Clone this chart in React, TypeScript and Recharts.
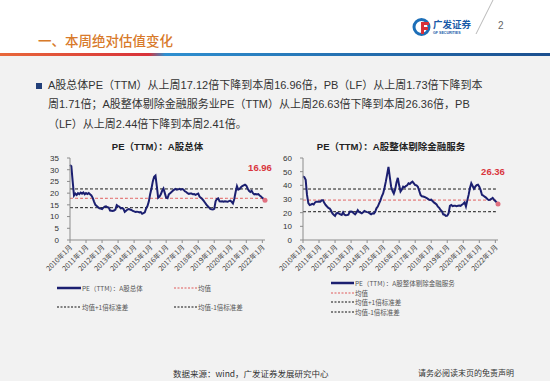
import React from "react";
import { LineChart, Line, XAxis, YAxis, ReferenceDot } from "recharts";

const FONT = '"Liberation Sans", "Noto Sans CJK SC", sans-serif';
const CJK = '"Noto Sans CJK SC", "Liberation Sans", sans-serif';
const NAVY = "#1b1f70";
const RED = "#d9363e";

// months 2010-01 .. 2022-03
const YEARS = [2010, 2011, 2012, 2013, 2014, 2015, 2016, 2017, 2018, 2019, 2020, 2021, 2022];
const LAST_MONTH = 3;
const MONTH_LABELS: string[] = [];
YEARS.forEach((y) => {
  for (let m = 1; m <= 12; m++) {
    if (y === 2022 && m > LAST_MONTH) break;
    MONTH_LABELS.push(`${y}年${m}月`);
  }
});

// PE(TTM) A股总体, monthly
const PE_ALL = [
  32.0, 31.5, 25.0, 19.0, 19.8, 19.2, 20.0, 19.6, 20.2, 19.8, 20.3, 19.5,
  20.0, 19.6, 20.0, 19.5, 19.0, 18.0, 16.4, 15.0, 14.5, 14.0, 13.5, 13.4,
  13.2, 13.8, 14.2, 14.4, 14.0, 13.8, 12.6, 12.5, 12.4, 12.6, 13.0, 14.9,
  14.5, 14.2, 13.5, 13.6, 13.3, 12.0, 12.5, 13.0, 13.2, 13.0, 12.8, 12.4,
  12.2, 12.0, 12.1, 12.0, 11.8, 11.9, 11.2, 11.5, 11.8, 13.5, 14.5, 16.4,
  19.5, 22.0, 25.0, 27.0, 27.5, 23.0, 18.0, 18.5, 19.5, 21.0, 22.0, 20.0,
  18.0, 17.8, 19.5, 20.0, 20.5, 21.0, 21.5, 21.8, 21.5, 21.6, 21.8, 21.5,
  21.7, 21.5, 20.8, 20.5, 20.0, 19.7, 19.8, 19.8, 19.5, 19.6, 19.3, 19.6,
  19.8, 18.5, 18.0, 17.5, 16.8, 16.0, 15.2, 14.5, 13.9, 13.3, 13.1, 13.0,
  13.3, 16.5, 17.5, 17.8, 16.5, 16.4, 16.5, 16.3, 16.5, 16.4, 16.3, 16.6,
  16.8, 16.3, 15.6, 17.5, 20.5, 23.0, 21.5, 21.8, 22.5, 23.0, 23.3, 23.6,
  23.2, 22.0, 21.0, 20.5, 21.0, 20.0, 19.5, 19.6, 19.4, 19.6, 19.0, 18.6,
  18.0, 17.5, 16.96,
];
const ALL_MEAN = 17.8;
const ALL_UPPER = 21.8;
const ALL_LOWER = 13.8;
const ALL_TICKS = [0, 5, 10, 15, 20, 25, 30, 35];

// PE(TTM) A股整体剔除金融服务, monthly
const PE_EX_FIN = [
  46.5, 46.0, 44.0, 33.0, 27.0, 25.6, 26.0, 26.5, 26.0, 27.5, 28.0, 28.0,
  28.2, 28.0, 29.0, 29.0, 27.0, 25.6, 24.5, 23.5, 23.0, 21.5, 19.5, 18.5,
  17.6, 19.5, 19.8, 19.3, 18.8, 18.3, 20.2, 18.5, 18.2, 18.3, 18.5, 20.7,
  20.8, 20.5, 19.5, 18.8, 20.0, 21.9, 20.5, 20.0, 19.5, 20.3, 21.2, 20.8,
  20.4, 20.2, 19.5, 18.8, 19.5, 19.3, 20.5, 23.2, 24.5, 26.8, 29.0, 32.0,
  34.1, 38.0, 42.7, 48.0, 53.5, 46.0, 39.0, 36.0, 34.0, 37.0, 42.0, 45.5,
  40.0, 35.5, 37.0, 39.0, 38.5, 39.5, 40.0, 41.5, 41.0, 42.0, 42.7, 41.5,
  40.2, 40.0, 39.0, 36.0, 33.0, 32.0, 31.8, 31.5, 31.0, 30.5, 29.8, 29.3,
  29.5, 28.5, 27.5, 26.8, 26.0, 24.4, 23.5, 22.0, 21.0, 18.8, 18.5, 17.6,
  17.8, 19.5, 25.0, 25.6, 24.8, 25.0, 25.0, 24.8, 25.0, 25.2, 25.0, 25.8,
  26.5, 27.5, 24.5, 29.0, 33.0, 38.0, 41.5, 39.5, 37.5, 39.0, 40.2, 40.5,
  39.0, 36.5, 33.0, 32.5, 31.7, 31.0, 30.0, 29.3, 29.5, 30.0, 30.8, 29.5,
  28.5, 27.5, 26.36,
];
const EX_MEAN = 29.2;
const EX_UPPER = 37.3;
const EX_LOWER = 20.7;
const EX_TICKS = [0, 10, 20, 30, 40, 50, 60];

function YearTick({ x, y, payload }: any) {
  return (
    <g transform={`translate(${x},${y})`}>
      <text x={0} y={0} dy={4} textAnchor="end" transform="rotate(-45)" fontSize={7} fill="#444" fontFamily={CJK}>
        {payload.value}
      </text>
    </g>
  );
}

function PeChart({ values, yTicks, mean, upper, lower }: {
  values: number[]; yTicks: number[]; mean: number; upper: number; lower: number;
}) {
  const rows = MONTH_LABELS.map((month, i) => ({ month, pe: values[i] }));
  const last = rows[rows.length - 1];
  return (
    <LineChart width={245} height={130} data={rows} margin={{ top: 8, right: 20, bottom: 0, left: 0 }}>
      <XAxis dataKey="month" interval={11} tick={<YearTick />} tickSize={3} height={40} stroke="#8c8c8c" />
      <YAxis
        domain={[0, yTicks[yTicks.length - 1]]}
        ticks={yTicks}
        interval={0}
        width={30}
        tickSize={3}
        tickMargin={8}
        stroke="#8c8c8c"
        tick={{ fontSize: 8, fill: "#333", fontFamily: FONT }}
      />
      <Line dataKey={() => upper} name="均值+1倍标准差" stroke="#111" strokeDasharray="3 2" strokeWidth={1} dot={false} isAnimationActive={false} />
      <Line dataKey={() => lower} name="均值-1倍标准差" stroke="#111" strokeDasharray="3 2" strokeWidth={1} dot={false} isAnimationActive={false} />
      <Line dataKey={() => mean} name="均值" stroke="#e05a5a" strokeDasharray="3 2" strokeWidth={1} dot={false} isAnimationActive={false} />
      <Line dataKey="pe" stroke={NAVY} strokeWidth={2} dot={false} isAnimationActive={false} />
      <ReferenceDot
        x={last.month}
        y={last.pe}
        shape={(p: any) => (
          <g>
            <circle cx={p.cx} cy={p.cy} r={2.5} fill="#e07080" />
            <text x={p.cx - 5} y={p.cy - 29} textAnchor="middle" fontSize={9.5} fontWeight="bold" fill={RED} fontFamily={FONT}>
              {last.pe.toFixed(2)}
            </text>
          </g>
        )}
      />
    </LineChart>
  );
}

function LegendItem({ x, y, w, color, dashed, label }: {
  x: number; y: number; w: number; color: string; dashed?: boolean; label: string;
}) {
  return (
    <div style={{ position: "absolute", left: x, top: y - 5, height: 10, display: "flex", alignItems: "center", whiteSpace: "nowrap" }}>
      <svg width={w} height={4} style={{ display: "block" }}>
        <line x1={0} y1={2} x2={w} y2={2} stroke={color} strokeWidth={dashed ? 1 : 2.5} strokeDasharray={dashed ? "2 1.5" : undefined} />
      </svg>
      <span style={{ fontSize: 6.5, color: "#555", fontFamily: CJK, marginLeft: 1, lineHeight: "10px" }}>{label}</span>
    </div>
  );
}

export default function App() {
  return (
    <div style={{ position: "absolute", left: 0, top: 0, width: 550, height: 381, background: "#f2f2f2", overflow: "hidden", fontFamily: FONT }}>
      {/* header */}
      <div style={{ position: "absolute", left: 0, top: 0, width: 550, height: 53, background: "#fff" }} />
      <div style={{ position: "absolute", left: 0, top: 53, width: 550, height: 3, background: "linear-gradient(90deg, #e8683a 0%, #d8323a 27%, #2e8fd0 30%, #1b4f8f 100%)" }} />
      <div style={{ position: "absolute", left: 38, top: 33, fontSize: 13.5, lineHeight: "15px", color: "#d87a2a", fontFamily: CJK, fontWeight: 500, whiteSpace: "nowrap" }}>
        一、本周绝对估值变化
      </div>
      <svg style={{ position: "absolute", left: 405, top: 0 }} width={145} height={50}>
        <circle cx={16.5} cy={27} r={7.5} fill="none" stroke="#1d6fb8" strokeWidth={3} />
        <path d="M16 22 L24 22 L24 25 L19 25 L19 27 L23 27 L23 30 L19 30 L19 34 L16 34 Z" fill="#d8323a" />
        <text x={28} y={28} fontSize={9.5} fontWeight="bold" fill="#1a5aa8" fontFamily={CJK}>广发证券</text>
        <text x={28} y={34} fontSize={3.6} fontWeight="bold" fill="#1a5aa8" fontFamily={FONT}>GF SECURITIES</text>
        <line x1={71} y1={34} x2={88} y2={0} stroke="#999" strokeWidth={0.7} />
        <text x={93} y={29} fontSize={10} fill="#666" fontFamily={FONT}>2</text>
      </svg>

      {/* bullet text */}
      <div style={{ position: "absolute", left: 36, top: 83, width: 6, height: 6, background: "#22407a" }} />
      <div style={{ position: "absolute", left: 48, top: 76, fontSize: 11, lineHeight: "19.3px", color: "#333", whiteSpace: "nowrap" }}>
        <div>A股总体PE（TTM）从上周17.12倍下降到本周16.96倍，PB（LF）从上周1.73倍下降到本</div>
        <div>周1.71倍；A股整体剔除金融服务业PE（TTM）从上周26.63倍下降到本周26.36倍，PB</div>
        <div>（LF）从上周2.44倍下降到本周2.41倍。</div>
      </div>

      {/* chart titles */}
      <div style={{ position: "absolute", left: 60, width: 195, top: 141, textAlign: "center", fontSize: 9.5, fontWeight: "bold", color: "#222", lineHeight: "12px", whiteSpace: "nowrap" }}>
        PE（TTM）：A股总体
      </div>
      <div style={{ position: "absolute", left: 291, width: 200, top: 141, textAlign: "center", fontSize: 9.5, fontWeight: "bold", color: "#222", lineHeight: "12px", whiteSpace: "nowrap" }}>
        PE（TTM）：A股整体剔除金融服务
      </div>

      {/* charts */}
      <div style={{ position: "absolute", left: 40, top: 150 }}>
        <PeChart values={PE_ALL} yTicks={ALL_TICKS} mean={ALL_MEAN} upper={ALL_UPPER} lower={ALL_LOWER} />
      </div>
      <div style={{ position: "absolute", left: 273, top: 150 }}>
        <PeChart values={PE_EX_FIN} yTicks={EX_TICKS} mean={EX_MEAN} upper={EX_UPPER} lower={EX_LOWER} />
      </div>

      {/* legends */}
      <LegendItem x={57} y={288} w={24} color={NAVY} label="PE（TTM）：A股总体" />
      <LegendItem x={174} y={288} w={23} color="#e05a5a" dashed label="均值" />
      <LegendItem x={57} y={307} w={24} color="#111" dashed label="均值+1倍标准差" />
      <LegendItem x={174} y={307} w={23} color="#111" dashed label="均值-1倍标准差" />

      <LegendItem x={331} y={283} w={23} color={NAVY} label="PE（TTM）：A股整体剔除金融服务" />
      <LegendItem x={331} y={292.5} w={23} color="#e05a5a" dashed label="均值" />
      <LegendItem x={331} y={302} w={23} color="#111" dashed label="均值+1倍标准差" />
      <LegendItem x={331} y={311.5} w={23} color="#111" dashed label="均值-1倍标准差" />

      {/* footer */}
      <div style={{ position: "absolute", left: 173, top: 367, fontSize: 8.5, lineHeight: "12px", color: "#333", fontFamily: CJK, whiteSpace: "nowrap" }}>
        数据来源：wind，广发证券发展研究中心
      </div>
      <div style={{ position: "absolute", left: 418, top: 367, fontSize: 8, lineHeight: "12px", color: "#333", fontFamily: CJK, whiteSpace: "nowrap" }}>
        请务必阅读末页的免责声明
      </div>
    </div>
  );
}
